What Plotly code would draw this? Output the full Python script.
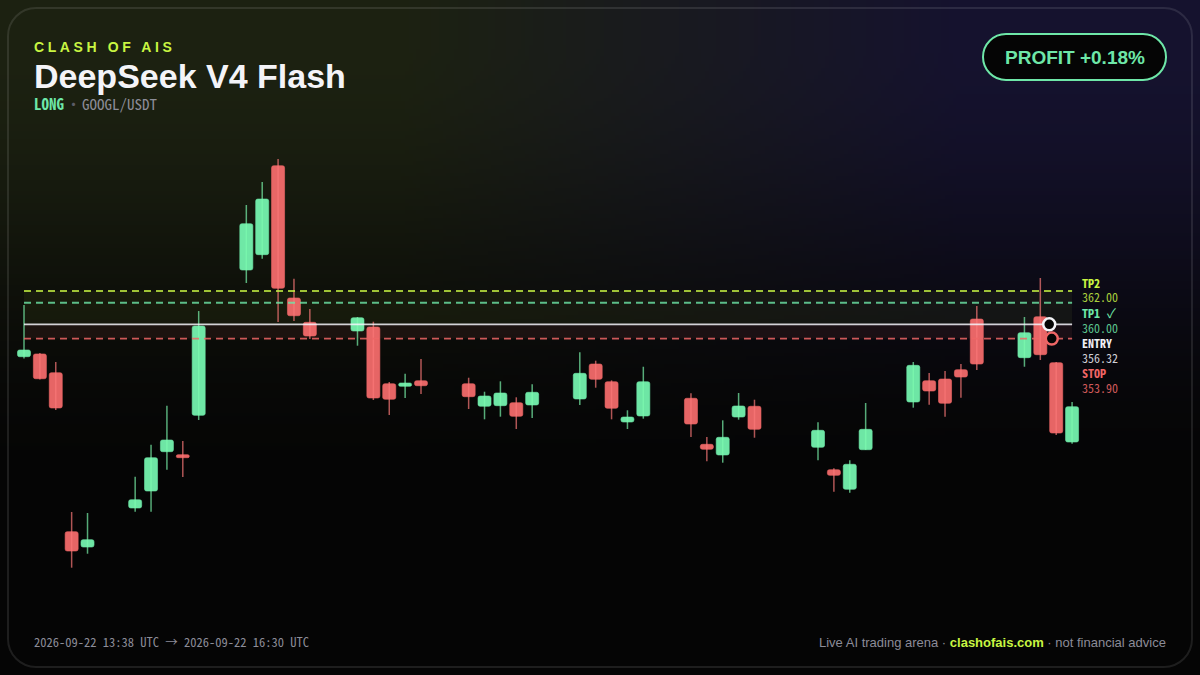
import numpy as np
import plotly.graph_objects as go

# candle slot number, gaps are the stretches with no trades
slots = [0, 1, 2, 3, 4, 7, 8, 9, 10, 11, 14, 15, 16, 17, 18, 21, 22, 23, 24, 25,
         28, 29, 30, 31, 32, 35, 36, 37, 38, 39, 42, 43, 44, 45, 46,
         50, 51, 52, 53, 56, 57, 58, 59, 60, 63, 64, 65, 66]
opens = [350.82, 351.28, 348.09, 321.04, 318.43, 325.07, 327.96, 334.65, 334.14, 340.84,
         365.57, 368.18, 383.32, 360.81, 356.67, 355.19, 355.87, 346.22, 345.78, 346.73,
         346.22, 342.38, 342.48, 342.99, 342.60, 343.62, 349.57, 346.56, 339.70, 340.73,
         343.74, 335.91, 334.09, 340.55, 342.38,
         335.40, 331.59, 328.25, 334.99, 343.11, 346.73, 347.02, 348.61, 357.23,
         350.65, 357.62, 349.80, 336.30]
highs = [359.62, 351.45, 349.92, 324.39, 324.22, 330.40, 335.84, 342.48, 336.47, 358.59,
         376.63, 380.55, 384.46, 364.09, 358.93, 357.57, 356.77, 346.51, 347.92, 350.43,
         347.24, 344.86, 346.63, 343.91, 346.12, 351.57, 350.14, 346.80, 341.70, 349.11,
         344.59, 337.15, 339.99, 344.64, 343.50,
         339.65, 331.83, 333.19, 342.94, 349.92, 348.04, 348.38, 349.57, 359.45,
         357.57, 364.21, 349.92, 343.11]
lows = [350.51, 346.94, 341.75, 314.91, 317.29, 324.44, 324.44, 331.59, 330.34, 340.04,
        363.36, 367.49, 356.72, 356.89, 353.83, 352.69, 343.45, 340.90, 343.79, 344.47,
        341.92, 340.16, 340.61, 338.51, 340.38, 342.60, 345.54, 340.16, 338.51, 340.27,
        337.15, 333.02, 332.78, 340.10, 337.03,
        333.19, 327.84, 327.67, 334.94, 342.14, 342.65, 340.61, 343.84, 348.55,
        349.11, 350.26, 337.49, 336.01]
closes = [351.96, 347.07, 342.09, 317.75, 319.68, 326.48, 333.63, 336.64, 333.63, 356.04,
          373.45, 377.65, 362.46, 357.79, 354.34, 357.45, 343.79, 343.57, 346.34, 345.88,
          344.01, 344.13, 344.64, 340.67, 344.76, 347.99, 346.97, 342.04, 340.55, 346.56,
          339.36, 335.06, 337.10, 342.43, 338.46,
          338.29, 330.63, 332.51, 338.46, 349.35, 344.98, 342.89, 347.36, 349.57,
          354.90, 351.16, 337.83, 342.31]

level_names = ['TP2', 'TP1', 'ENTRY', 'STOP']
level_prices = [362.00, 360.00, 356.32, 353.90]
level_end = 66

exit_slots = [64.72, 64.56]
exit_prices = [353.90, 356.32]

GREEN = '#6ee7a8'
RED = '#ef6666'
LIME = '#c8f542'
GRAY = '#8c8c98'
MONO = 'Noto Sans Mono CJK SC, DejaVu Sans Mono, monospace'
SANS = 'Liberation Sans, Arial, sans-serif'


def slot_split(up):
    idx = [i for i in range(len(slots)) if (closes[i] >= opens[i]) == up]
    x = [slots[i] for i in idx]
    wick_base = [lows[i] for i in idx]
    wick_h = [highs[i] - lows[i] for i in idx]
    body_base = [min(opens[i], closes[i]) for i in idx]
    body_h = [abs(closes[i] - opens[i]) for i in idx]
    return x, wick_base, wick_h, body_base, body_h


# page glow, olive on the left going to navy on the right, fades out downwards
# 320x180 keeps the 16:9 of the page, the image trace locks its pixels square
w, h = 320, 180
xx, yy = np.meshgrid(np.linspace(0, 1200, w), np.linspace(0, 675, h))
t = np.clip((xx - 400) / 560, 0, 1)[..., None]
olive = np.array([28, 33, 17])
navy = np.array([21, 18, 46])
base = np.array([5, 5, 5])
s = np.clip((yy - 40) / 440, 0, 1)
fade = (1 - s * s * (3 - 2 * s))[..., None]
bg = base + (olive * (1 - t) + navy * t - base) * fade

fig = go.Figure()
fig.add_trace(go.Image(z=bg.round().astype(int), colormodel='rgb', xaxis='x', yaxis='y', hoverinfo='skip'))

# shaded zones behind the candles: TP2 down to entry, entry down to stop
fig.add_trace(go.Bar(x=[level_end / 2], y=[level_prices[0] - level_prices[2]], base=[level_prices[2]],
                     width=[level_end], xaxis='x2', yaxis='y2', hoverinfo='skip',
                     marker=dict(color='rgba(200,245,66,0.055)', line=dict(width=0))))
fig.add_trace(go.Bar(x=[level_end / 2], y=[level_prices[2] - level_prices[3]], base=[level_prices[3]],
                     width=[level_end], xaxis='x2', yaxis='y2', hoverinfo='skip',
                     marker=dict(color='rgba(239,102,102,0.075)', line=dict(width=0))))

for up, edge, wick_col, fill in [(True, 'rgba(110,231,168,0.6)', 'rgba(125,250,175,0.68)', 'rgba(122,255,183,0.9)'),
                                 (False, 'rgba(239,102,102,0.6)', 'rgba(250,120,120,0.7)', 'rgba(255,112,112,0.9)')]:
    x, wick_base, wick_h, body_base, body_h = slot_split(up)
    fig.add_trace(go.Bar(x=x, y=body_h, base=body_base, width=0.82, xaxis='x2', yaxis='y2',
                         marker=dict(color=fill, cornerradius=2, line=dict(width=1, color=edge)),
                         hoverinfo='skip'))
    fig.add_trace(go.Bar(x=x, y=wick_h, base=wick_base, width=0.095, xaxis='x2', yaxis='y2',
                         marker=dict(color=wick_col, line=dict(width=0)), hoverinfo='skip'))

level_styles = [('rgba(200,245,66,0.78)', '7px,5px', 1.8),
                ('rgba(110,231,168,0.8)', '7px,5px', 1.8),
                ('rgba(245,245,250,0.85)', 'solid', 1.8),
                ('rgba(239,102,102,0.85)', '7px,5px', 1.8)]
for price, (col, dash, lw) in zip(level_prices, level_styles):
    fig.add_trace(go.Scatter(x=[0, level_end], y=[price, price], mode='lines', xaxis='x2', yaxis='y2',
                             line=dict(color=col, dash=dash, width=lw), hoverinfo='skip'))

fig.add_trace(go.Scatter(x=exit_slots, y=exit_prices, mode='markers', xaxis='x2', yaxis='y2',
                         marker=dict(size=12, color='#050505', line=dict(width=2.5, color=[RED, '#f4f4f8'])),
                         hoverinfo='skip'))


def rounded(x0, y0, x1, y1, r):
    # pixel box to a paper path
    k = r * 0.4477
    pts = [('M', x0 + r, y0), ('L', x1 - r, y0), ('C', x1 - k, y0, x1, y0 + k, x1, y0 + r),
           ('L', x1, y1 - r), ('C', x1, y1 - k, x1 - k, y1, x1 - r, y1), ('L', x0 + r, y1),
           ('C', x0 + k, y1, x0, y1 - k, x0, y1 - r), ('L', x0, y0 + r),
           ('C', x0, y0 + k, x0 + k, y0, x0 + r, y0)]
    out = ''
    for p in pts:
        vals = p[1:]
        nums = []
        for i in range(0, len(vals), 2):
            nums.append('%.5f,%.5f' % (vals[i] / 1200, 1 - vals[i + 1] / 675))
        out += p[0] + ' '.join(nums) + ' '
    return out + 'Z'


shapes = [
    dict(type='path', xref='paper', yref='paper', path=rounded(8, 8, 1192, 667, 28),
         line=dict(color='rgba(255,255,255,0.1)', width=2), layer='above'),
    dict(type='path', xref='paper', yref='paper', path=rounded(983, 34, 1166, 80, 23),
         fillcolor='#050505', line=dict(color=GREEN, width=2), layer='above'),
]


def label(px, py, text, size, color, family=SANS, anchor='left'):
    return dict(xref='paper', yref='paper', x=px / 1200, y=1 - py / 675, text=text, showarrow=False,
                xanchor=anchor, yanchor='middle', align=anchor, borderpad=0, borderwidth=0,
                font=dict(size=size, color=color, family=family))


annotations = [
    label(34, 46.5, '<b>CLASH OF AIS</b>', 14, LIME),
    label(34, 76.5, '<b>DeepSeek V4 Flash</b>', 34, '#f4f4f8'),
    label(34, 103, '<b>LONG</b>', 15, GREEN, MONO),
    label(73, 103, '·', 15, '#5c5c66', MONO, 'center'),
    label(82, 103, 'GOOGL/USDT', 15, GRAY, MONO),
    label(1074.5, 57.5, '<b>PROFIT +0.18%</b>', 19, GREEN, SANS, 'center'),
    label(1082, 282, '<b>%s</b>' % level_names[0], 12, LIME, MONO),
    label(1082, 297, '%.2f' % level_prices[0], 12, '#a9cf3c', MONO),
    label(1082, 312, '<b>%s</b>' % level_names[1], 12, GREEN, MONO),
    label(1107, 312, '✓', 13, GREEN, MONO),
    label(1082, 327, '%.2f' % level_prices[1], 12, '#5cc48e', MONO),
    label(1082, 342, '<b>%s</b>' % level_names[2], 12, '#f0f0f5', MONO),
    label(1082, 357, '%.2f' % level_prices[2], 12, '#cfcfd6', MONO),
    label(1082, 372, '<b>%s</b>' % level_names[3], 12, RED, MONO),
    label(1082, 387, '%.2f' % level_prices[3], 12, '#d05a5a', MONO),
    label(34, 641, '2026-09-22 13:38 UTC → 2026-09-22 16:30 UTC', 12.5, GRAY, MONO),
    label(1166, 642.5, 'Live AI trading arena · <span style="color:%s"><b>clashofais.com</b></span> · not financial advice' % LIME,
          13, GRAY, SANS, 'right'),
]

fig.update_layout(
    width=1200, height=675, margin=dict(l=0, r=0, t=0, b=0),
    paper_bgcolor='#050505', plot_bgcolor='rgba(0,0,0,0)',
    showlegend=False, barmode='overlay', shapes=shapes, annotations=annotations,
    xaxis=dict(visible=False, domain=[0, 1], range=[-0.5, w - 0.5], fixedrange=True),
    yaxis=dict(visible=False, domain=[0, 1], range=[h - 0.5, -0.5], fixedrange=True),
    # 24px = slot 0, 15.88px per slot; 291px = 362.00, 5.876px per dollar
    xaxis2=dict(visible=False, overlaying='x', anchor='y2', range=[-1.5113, 74.055], fixedrange=True),
    yaxis2=dict(visible=False, overlaying='y', anchor='x2', range=[296.65, 411.52], fixedrange=True),
)

page_fix = ("document.body.style.margin='0';document.body.style.overflow='hidden';"
            "document.body.style.background='#050505';"
            "document.querySelectorAll('.annotation-text').forEach(function(t){"
            "if(t.textContent==='CLASH OF AIS'){t.style.letterSpacing='3.6px';}});")
fig.write_html("out.html", post_script=page_fix, config=dict(displayModeBar=False))
